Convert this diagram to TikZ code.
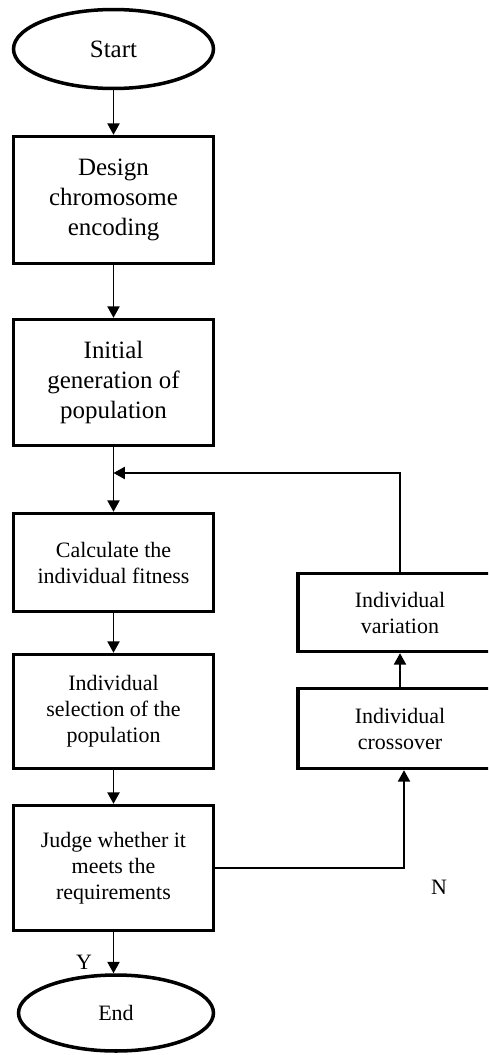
\documentclass[tikz,border=0pt]{standalone}
\usepackage{fontspec}
\setmainfont{Liberation Serif}
\usepackage{tikz}
\usetikzlibrary{shapes.geometric, arrows.meta, positioning, calc}

\begin{document}
\begin{tikzpicture}[
  x=0.02cm, y=-0.02cm,
  term/.style={ellipse, minimum width=4.0cm, minimum height=1.58cm,
               inner sep=0pt, draw, line width=2pt},
  box/.style={rectangle, minimum width=4.0cm, text centered, align=center,
              draw, line width=2pt, font=\fontsize{12.5}{14.8}\selectfont},
  bigbox/.style={box, font=\fontsize{14.2}{17}\selectfont},
  arr/.style={-{Triangle[length=6.5pt, width=7pt]}, line width=0.8pt},
  lbl/.style={font=\fontsize{12.5}{14.8}\selectfont, inner sep=0pt},
]
  \useasboundingbox (0,0) rectangle (488,1055);
  \clip (0,0) rectangle (488,1055);

  %% ── Main column (x=113.5) ───────────────────────────────────────────────
  \node[term, font=\fontsize{14.2}{17}\selectfont] (start) at (113.5, 49) {Start};
  \node[bigbox, minimum height=2.54cm] (design) at (113.5, 200)   {Design\\chromosome\\encoding};
  \node[bigbox, minimum height=2.52cm] (init)   at (113.5, 382.5) {Initial\\generation of\\population};
  \node[box,    minimum height=1.96cm] (calc)   at (113.5, 562.5) {Calculate the\\individual fitness};
  \node[box,    minimum height=2.28cm] (sel)    at (113.5, 711.5) {Individual\\selection of the\\population};
  \node[box,    minimum height=2.50cm] (judge)  at (113.5, 868)   {Judge whether it\\meets the\\requirements};
  \node[term, minimum width=3.9cm, minimum height=1.52cm,
        font=\fontsize{12.5}{14.8}\selectfont] (end) at (116, 1013) {End};

  %% ── Right column (x=400) ────────────────────────────────────────────────
  \node[box, minimum width=4.08cm, minimum height=1.56cm] (var)   at (400, 612.5) {Individual\\variation};
  \node[box, minimum width=4.08cm, minimum height=1.60cm] (cross) at (400, 728.5) {Individual\\crossover};

  \coordinate (merge) at (113.5, 473);

  %% ── Main-flow arrows ─────────────────────────────────────────────────────
  \draw[arr] (start)  -- (design);
  \draw[arr] (design) -- (init);
  \draw[arr] (init)   -- (calc);
  \draw[arr] (calc)   -- (sel);
  \draw[arr] (sel)    -- (judge);
  \draw[arr] (judge)  -- (end.north -| judge.south);
  \node[lbl] (ylbl) at (84, 962) {Y};

  %% ── "N" loop: judge → crossover → variation → merge ─────────────────────
  \draw[arr] (judge.east) -| ([xshift=0.08cm]cross.south);
  \node[lbl] (nlbl) at (439, 887) {N};
  \draw[arr] (cross) -- (var);
  \draw[arr] (var.north) |- (merge);

\end{tikzpicture}
\end{document}
